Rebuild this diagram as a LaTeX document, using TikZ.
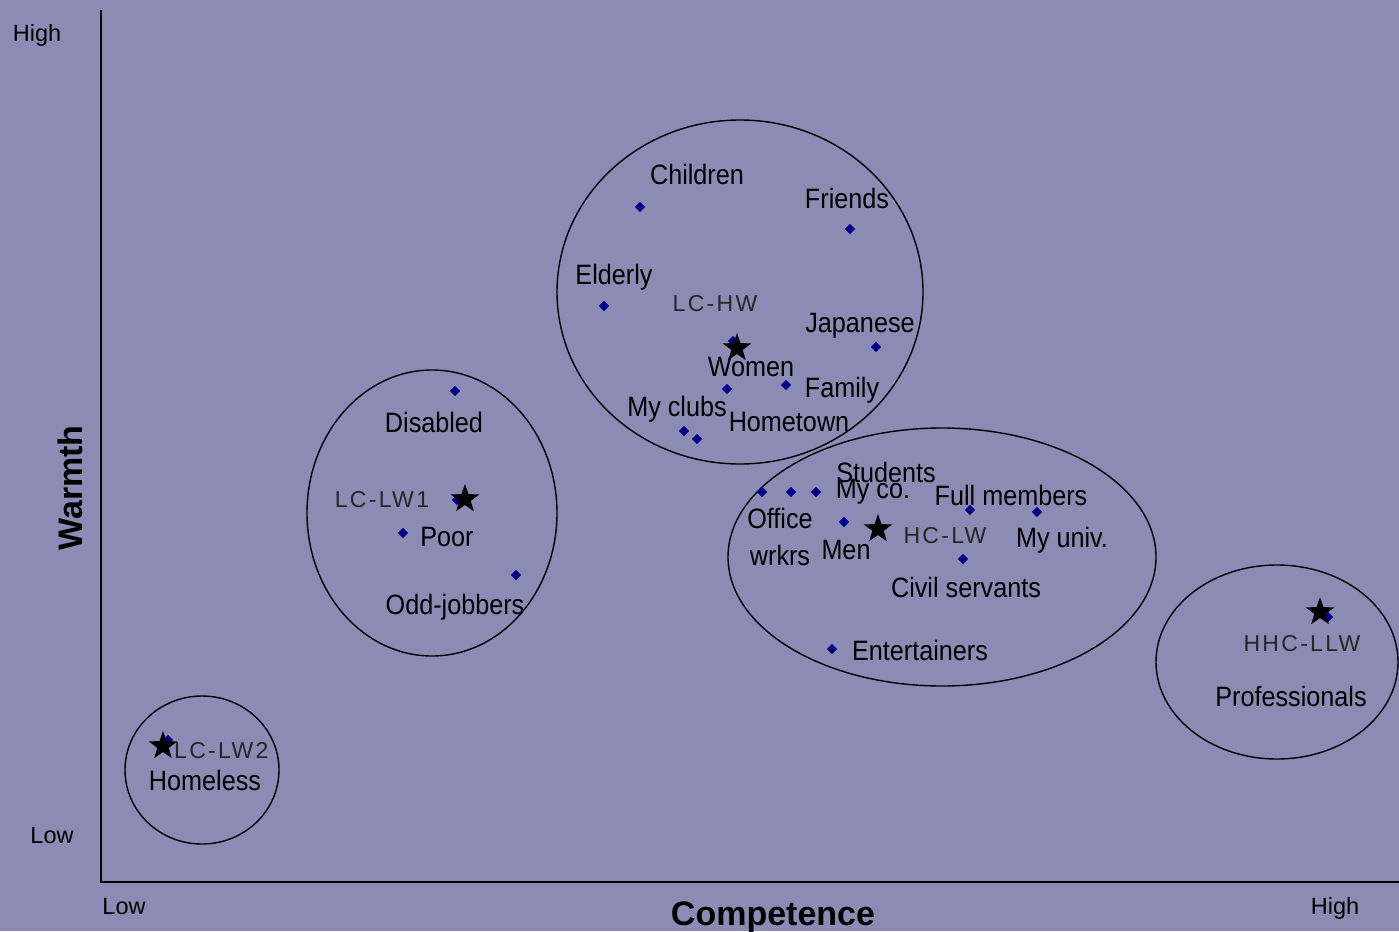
\documentclass[tikz,border=0pt]{standalone}
\usepackage{fontspec}
\setmainfont{Liberation Sans}
\newfontfamily\labfont[FakeStretch=0.9]{Liberation Sans}
\newfontfamily\quadfont[LetterSpace=10]{Liberation Sans}
\usetikzlibrary{shapes.geometric}
\definecolor{bg}{RGB}{139,139,179}
\definecolor{dotblue}{RGB}{0,0,140}
\begin{document}
\begin{tikzpicture}[x=1pt,y=-1pt,
  cat/.style={inner sep=0pt,text height=20pt,text depth=0pt,font=\labfont\fontsize{28}{30}\selectfont},
  quad/.style={inner sep=0pt,text height=16.5pt,text depth=0pt,text=black!85,font=\quadfont\fontsize{23}{26}\selectfont},
  axl/.style={inner sep=0pt,text height=17pt,text depth=0pt,font=\fontsize{23.5}{26}\selectfont},
  axt/.style={inner sep=0pt,text height=24pt,text depth=0pt,font=\bfseries\fontsize{34}{38}\selectfont},
  pt/.style={diamond,fill=dotblue,inner sep=0pt,minimum size=10.5pt},
  centroid/.style={star,star points=5,star point ratio=2.5,fill=black,inner sep=0pt,minimum size=30pt},
  grp/.style={draw=black,line width=1.4pt}]
\useasboundingbox (0,0) rectangle (1399,931);
\fill[bg] (0,0) rectangle (1399,931);
% axes
\coordinate (top) at (101,10);
\coordinate (origin) at (101,882);
\coordinate (right) at (1399,882);
\draw[line width=1.4pt] (top) -- (origin) -- (right);
\node[axl] (yhigh) at (37,33) {High};
\node[axl] (ylow) at (52,835) {Low};
\node[axl] (xlow) at (124,906) {Low};
\node[axl] (xhigh) at (1335,906) {High};
\node[axt] (xtitle) at (773,913) {Competence};
\node[axt,rotate=90] (ytitle) at (70,488) {Warmth};
% group ellipses
\draw[grp] (740,292) ellipse [x radius=183,y radius=172];
\draw[grp] (432,513) ellipse [x radius=125,y radius=143];
\draw[grp] (942,557) ellipse [x radius=214,y radius=129];
\draw[grp] (202,770) ellipse [x radius=77,y radius=74];
\draw[grp] (1277,662) ellipse [x radius=121,y radius=97];
% LC-HW cluster
\node[pt] (dchildren) at (640,207) {};
\node[pt] (dfriends) at (850,229) {};
\node[pt] (delderly) at (604,306) {};
\node[pt] (dwomen) at (733,341) {};
\node[pt] (djapanese) at (876,347) {};
\node[pt] (dhometown) at (727,389) {};
\node[pt] (dfamily) at (786,385) {};
\node[pt] (dclubs1) at (684,431) {};
\node[pt] (dclubs2) at (697,439) {};
\node[centroid] (slchw) at (737,348) {};
\node[cat] (lchildren) at (697,174) {Children};
\node[cat] (lfriends) at (847,198) {Friends};
\node[cat] (lelderly) at (614,274) {Elderly};
\node[quad] (qlchw) at (715,303) {LC-HW};
\node[cat] (ljapanese) at (860,322) {Japanese};
\node[cat] (lwomen) at (751,366) {Women};
\node[cat] (lfamily) at (842,387) {Family};
\node[cat] (lclubs) at (677,406) {My clubs};
\node[cat] (lhometown) at (789,421) {Hometown};
% HC-LW cluster
\node[pt] (doffice) at (762,492) {};
\node[pt] (dstudents) at (791,492) {};
\node[pt] (dmyco) at (816,492) {};
\node[pt] (dmen) at (844,522) {};
\node[pt] (dfull) at (970,510) {};
\node[pt] (duniv) at (1037,512) {};
\node[pt] (dcivil) at (963,559) {};
\node[pt] (dentert) at (832,649) {};
\node[centroid] (shclw) at (878,529) {};
\node[cat] (lstudents) at (886,472) {Students};
\node[cat] (lmyco) at (873,488) {My co.};
\node[cat] (lfull) at (1011,495) {Full members};
\node[cat] (loffice) at (780,518) {Office};
\node[cat] (lwrkrs) at (780,555) {wrkrs};
\node[cat] (lmen) at (846,549) {Men};
\node[quad] (qhclw) at (945,535) {HC-LW};
\node[cat] (luniv) at (1062,537) {My univ.};
\node[cat] (lcivil) at (966,587) {Civil servants};
\node[cat] (lentert) at (920,650) {Entertainers};
% LC-LW1 cluster
\node[pt] (ddisabled) at (455,391) {};
\node[pt] (dpoor) at (403,533) {};
\node[pt] (dodd) at (516,575) {};
\node[pt] (dlw1) at (457,500) {};
\node[centroid] (slclw1) at (465,499) {};
\node[cat] (ldisabled) at (434,422) {Disabled};
\node[quad] (qlclw1) at (382,499) {LC-LW1};
\node[cat] (lpoor) at (447,536) {Poor};
\node[cat] (lodd) at (455,604) {Odd-jobbers};
% LC-LW2 cluster
\node[pt] (dhomeless) at (168,740) {};
\node[centroid] (slclw2) at (163,746) {};
\node[quad,anchor=west] (qlclw2) at (174,750) {LC-LW2};
\node[cat] (lhomeless) at (205,780) {Homeless};
% HHC-LLW cluster
\node[pt] (dprof) at (1328,617) {};
\node[centroid] (shhc) at (1320,612) {};
\node[quad] (qhhc) at (1302,643) {HHC-LLW};
\node[cat] (lprof) at (1291,696) {Professionals};
\end{tikzpicture}
\end{document}
